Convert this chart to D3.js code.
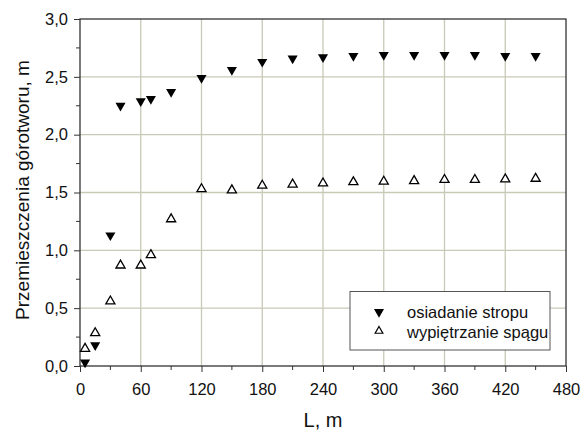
<!DOCTYPE html>
<html><head><meta charset="utf-8">
<script src="https://cdn.jsdelivr.net/npm/d3@7"></script>
<style>body{margin:0;background:#fff}svg{display:block}text{font-family:"Liberation Sans",Arial,sans-serif;fill:#111}</style>
</head><body>
<script>
const xStrop = [5, 15, 30, 40, 60, 70, 90, 120, 150, 180, 210, 240, 270, 300, 330, 360, 390, 420, 450];
const yStrop = [0.03, 0.18, 1.13, 2.25, 2.29, 2.31, 2.37, 2.49, 2.56, 2.63, 2.66, 2.67, 2.68, 2.69, 2.69, 2.69, 2.69, 2.68, 2.68];
const xSpag = [5, 15, 30, 40, 60, 70, 90, 120, 150, 180, 210, 240, 270, 300, 330, 360, 390, 420, 450];
const ySpag = [0.15, 0.285, 0.56, 0.87, 0.87, 0.96, 1.27, 1.53, 1.52, 1.56, 1.57, 1.58, 1.59, 1.595, 1.60, 1.61, 1.61, 1.615, 1.62];
const xTicks = [0, 60, 120, 180, 240, 300, 360, 420, 480];
const yTicks = [0, 0.5, 1.0, 1.5, 2.0, 2.5, 3.0];
const seriesNames = ["osiadanie stropu", "wypiętrzanie spągu"];
const xTitle = "L, m";
const yTitle = "Przemieszczenia górotworu, m";

const W = 581, H = 432;
const m = {l: 80, r: 15, t: 19, b: 66};
const svg = d3.select("body").append("svg").attr("width", W).attr("height", H);
const x = d3.scaleLinear().domain([0, 480]).range([m.l, W - m.r]);
const y = d3.scaleLinear().domain([0, 3]).range([H - m.b, m.t]);
const gridC = "#c9c9b8", axC = "#333";

// grid
svg.append("g").selectAll("line").data(xTicks.filter(v => v > 0 && v < 480)).join("line")
  .attr("x1", d => x(d)).attr("x2", d => x(d)).attr("y1", y(0)).attr("y2", y(3))
  .attr("stroke", gridC).attr("stroke-width", 1.3);
svg.append("g").selectAll("line").data(yTicks.filter(v => v > 0 && v < 3)).join("line")
  .attr("y1", d => y(d)).attr("y2", d => y(d)).attr("x1", x(0)).attr("x2", x(480))
  .attr("stroke", gridC).attr("stroke-width", 1.3);

// minor ticks
const xMinor = d3.range(30, 480, 60);
const yMinor = d3.range(0.25, 3, 0.5);
svg.append("g").selectAll("line").data(xMinor).join("line")
  .attr("x1", d => x(d)).attr("x2", d => x(d)).attr("y1", y(0)).attr("y2", y(0) + 4)
  .attr("stroke", axC);
svg.append("g").selectAll("line").data(yMinor).join("line")
  .attr("y1", d => y(d)).attr("y2", d => y(d)).attr("x1", x(0) - 4).attr("x2", x(0))
  .attr("stroke", axC);

// axes
const fmt = d => d3.format(".1f")(d).replace(".", ",");
const xAx = svg.append("g").attr("transform", `translate(0,${y(0)})`)
  .call(d3.axisBottom(x).tickValues(xTicks).tickSize(6).tickPadding(11).tickFormat(d3.format("d")));
const yAx = svg.append("g").attr("transform", `translate(${x(0)},0)`)
  .call(d3.axisLeft(y).tickValues(yTicks).tickSize(6).tickPadding(6).tickFormat(fmt));
[xAx, yAx].forEach(g => {
  g.select(".domain").remove();
  g.selectAll("line").attr("stroke", axC);
  g.selectAll("text").attr("font-size", 16.5).attr("font-family", "Liberation Sans, Arial, sans-serif").attr("fill", "#111");
});
// frame
svg.append("rect").attr("x", x(0)).attr("y", y(3)).attr("width", x(480) - x(0)).attr("height", y(0) - y(3))
  .attr("fill", "none").attr("stroke", axC).attr("stroke-width", 1.3);

// markers
const triF = d3.symbol().type(d3.symbolTriangle).size(44);
const triO = d3.symbol().type(d3.symbolTriangle).size(36);
svg.append("g").selectAll("path").data(xStrop.map((v, i) => [v, yStrop[i]])).join("path")
  .attr("d", triF).attr("transform", d => `translate(${x(d[0])},${y(d[1])}) rotate(180)`)
  .attr("fill", "#000");
svg.append("g").selectAll("path").data(xSpag.map((v, i) => [v, ySpag[i]])).join("path")
  .attr("d", triO).attr("transform", d => `translate(${x(d[0])},${y(d[1])})`)
  .attr("fill", "#fff").attr("stroke", "#000").attr("stroke-width", 1.3);

// legend
const lg = svg.append("g");
lg.append("rect").attr("x", 350).attr("y", 291.5).attr("width", 200).attr("height", 58.5)
  .attr("fill", "#fff").attr("stroke", "#555").attr("stroke-width", 1);
lg.append("path").attr("d", triF).attr("transform", "translate(379,312) rotate(180)").attr("fill", "#000");
lg.append("path").attr("d", d3.symbol().type(d3.symbolTriangle).size(26)).attr("transform", "translate(379,331)")
  .attr("fill", "#fff").attr("stroke", "#000").attr("stroke-width", 1.2);
lg.selectAll("text").data(seriesNames).join("text")
  .attr("x", 407).attr("y", (d, i) => 318 + i * 20).attr("font-size", 16.5).text(d => d);

// titles
svg.append("text").attr("x", (x(0) + x(480)) / 2).attr("y", 427).attr("text-anchor", "middle")
  .attr("font-size", 20).text(xTitle);
svg.append("text").attr("transform", `translate(29,190) rotate(-90)`)
  .attr("text-anchor", "middle").attr("font-size", 19).text(yTitle);
</script>
</body></html>
